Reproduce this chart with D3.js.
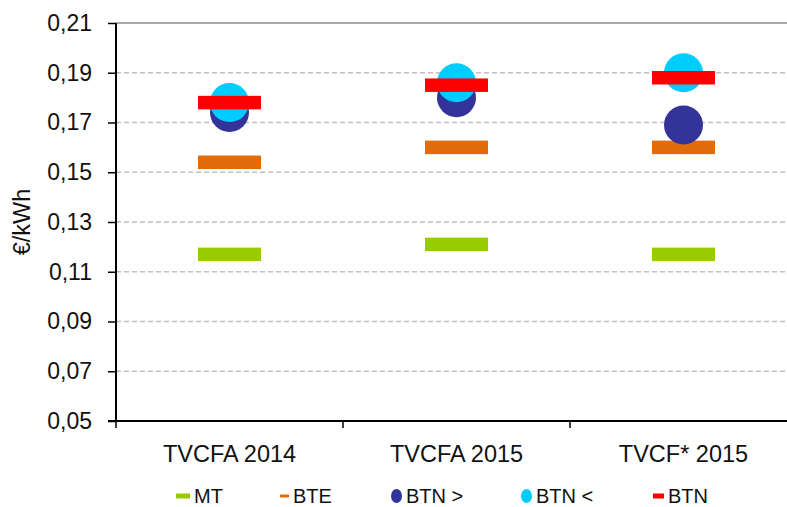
<!DOCTYPE html>
<html>
<head>
<meta charset="utf-8">
<script src="https://cdn.jsdelivr.net/npm/d3@7"></script>
<style>
  html, body { margin: 0; padding: 0; background: #fff; }
  svg { display: block; font-family: "Liberation Sans", Arial, sans-serif; }
</style>
</head>
<body>
<svg id="chart" width="787" height="507"></svg>
<script>
// Tariff categories on the x axis
const categories = ["TVCFA 2014", "TVCFA 2015", "TVCF* 2015"];

// €/kWh per voltage level
const mt     = [0.117, 0.121, 0.117];
const bte    = [0.154, 0.160, 0.160];
const btnGt  = [0.174, 0.180, 0.169];
const btnLt  = [0.178, 0.186, 0.190];
const btn    = [0.178, 0.185, 0.188];

const yTicks = [0.05, 0.07, 0.09, 0.11, 0.13, 0.15, 0.17, 0.19, 0.21];

const series = [
  { name: "MT",    values: mt,    kind: "bar",    color: "#99cc00" },
  { name: "BTE",   values: bte,   kind: "bar",    color: "#e36c0a" },
  { name: "BTN >", values: btnGt, kind: "circle", color: "#333399" },
  { name: "BTN <", values: btnLt, kind: "circle", color: "#00ccff" },
  { name: "BTN",   values: btn,   kind: "bar",    color: "#ff0000" }
];

const svg = d3.select("#chart");
const plotLeft = 116, plotRight = 797, plotTop = 23, plotBottom = 421;

const x = d3.scaleBand().domain(categories).range([plotLeft, plotRight]);
const y = d3.scaleLinear().domain([0.05, 0.21]).range([plotBottom, plotTop]);
const fmt = v => d3.format(".2f")(v).replace(".", ",");

// Plot area top border
svg.append("line")
  .attr("x1", plotLeft).attr("x2", plotRight).attr("y1", plotTop).attr("y2", plotTop)
  .attr("stroke", "#8c8c8c").attr("stroke-width", 1.5);

// Dashed horizontal gridlines
svg.append("g").selectAll("line")
  .data(yTicks.filter(t => t > 0.05 && t < 0.21))
  .join("line")
  .attr("x1", plotLeft).attr("x2", plotRight)
  .attr("y1", d => y(d)).attr("y2", d => y(d))
  .attr("stroke", "#c0c0c0").attr("stroke-width", 1.5)
  .attr("stroke-dasharray", "5,3");

// Y axis
const yAxis = svg.append("g")
  .attr("transform", `translate(${plotLeft},0)`)
  .call(d3.axisLeft(y).tickValues(yTicks).tickFormat(fmt).tickSize(8).tickPadding(16));
yAxis.select(".domain").attr("stroke", "#000").attr("stroke-width", 2)
  .attr("d", `M0,${plotTop}V${plotBottom + 1}`);
yAxis.selectAll(".tick line").attr("stroke", "#000").attr("stroke-width", 1.5);
yAxis.selectAll(".tick text").attr("font-size", 23).attr("fill", "#111")
  .attr("font-family", "Liberation Sans, Arial, sans-serif");

// X axis with ticks between categories
const xAxis = svg.append("g")
  .attr("transform", `translate(0,${plotBottom})`);
xAxis.append("line")
  .attr("x1", plotLeft - 8).attr("x2", plotRight).attr("y1", 0).attr("y2", 0)
  .attr("stroke", "#000").attr("stroke-width", 2);
xAxis.selectAll("line.sep")
  .data(categories)
  .join("line").attr("class", "sep")
  .attr("x1", d => x(d)).attr("x2", d => x(d))
  .attr("y1", 0).attr("y2", 7)
  .attr("stroke", "#000").attr("stroke-width", 1.5);
xAxis.selectAll("text")
  .data(categories)
  .join("text")
  .attr("x", d => x(d) + x.bandwidth() / 2)
  .attr("y", 41)
  .attr("text-anchor", "middle")
  .attr("font-size", 23.5)
  .attr("fill", "#111")
  .text(d => d);

// Y axis title
svg.append("text")
  .attr("transform", `translate(30,${(plotTop + plotBottom) / 2}) rotate(-90)`)
  .attr("text-anchor", "middle")
  .attr("font-size", 23.5)
  .attr("fill", "#111")
  .text("€/kWh");

// Marks, drawn in series order
const barW = 63, barH = 13.5, radius = 19.5;
series.forEach(s => {
  const g = svg.append("g");
  const pts = categories.map((c, i) => ({ c, v: s.values[i] }));
  if (s.kind === "bar") {
    g.selectAll("rect").data(pts).join("rect")
      .attr("x", d => x(d.c) + x.bandwidth() / 2 - barW / 2)
      .attr("y", d => y(d.v) - barH / 2)
      .attr("width", barW).attr("height", barH)
      .attr("fill", s.color);
  } else {
    g.selectAll("circle").data(pts).join("circle")
      .attr("cx", d => x(d.c) + x.bandwidth() / 2)
      .attr("cy", d => y(d.v))
      .attr("r", radius)
      .attr("fill", s.color);
  }
});

// Legend
const legendY = 496;
const legendItems = [
  { sx: 176, sym: { w: 14, h: 5 } },
  { sx: 280, sym: { w: 9, h: 3 } },
  { sx: 391, sym: { rx: 5.5, ry: 7 } },
  { sx: 521, sym: { rx: 5.5, ry: 7 } },
  { sx: 653, sym: { w: 11, h: 5 } }
];
const legend = svg.append("g");
series.forEach((s, i) => {
  const it = legendItems[i];
  let symW;
  if (s.kind === "bar") {
    legend.append("rect")
      .attr("x", it.sx).attr("y", legendY - it.sym.h / 2)
      .attr("width", it.sym.w).attr("height", it.sym.h)
      .attr("fill", s.color);
    symW = it.sym.w;
  } else {
    legend.append("ellipse")
      .attr("cx", it.sx + it.sym.rx).attr("cy", legendY)
      .attr("rx", it.sym.rx).attr("ry", it.sym.ry)
      .attr("fill", s.color);
    symW = it.sym.rx * 2;
  }
  legend.append("text")
    .attr("x", it.sx + symW + 4)
    .attr("y", legendY + 7)
    .attr("font-size", 20)
    .attr("fill", "#111")
    .text(s.name);
});
</script>
</body>
</html>
